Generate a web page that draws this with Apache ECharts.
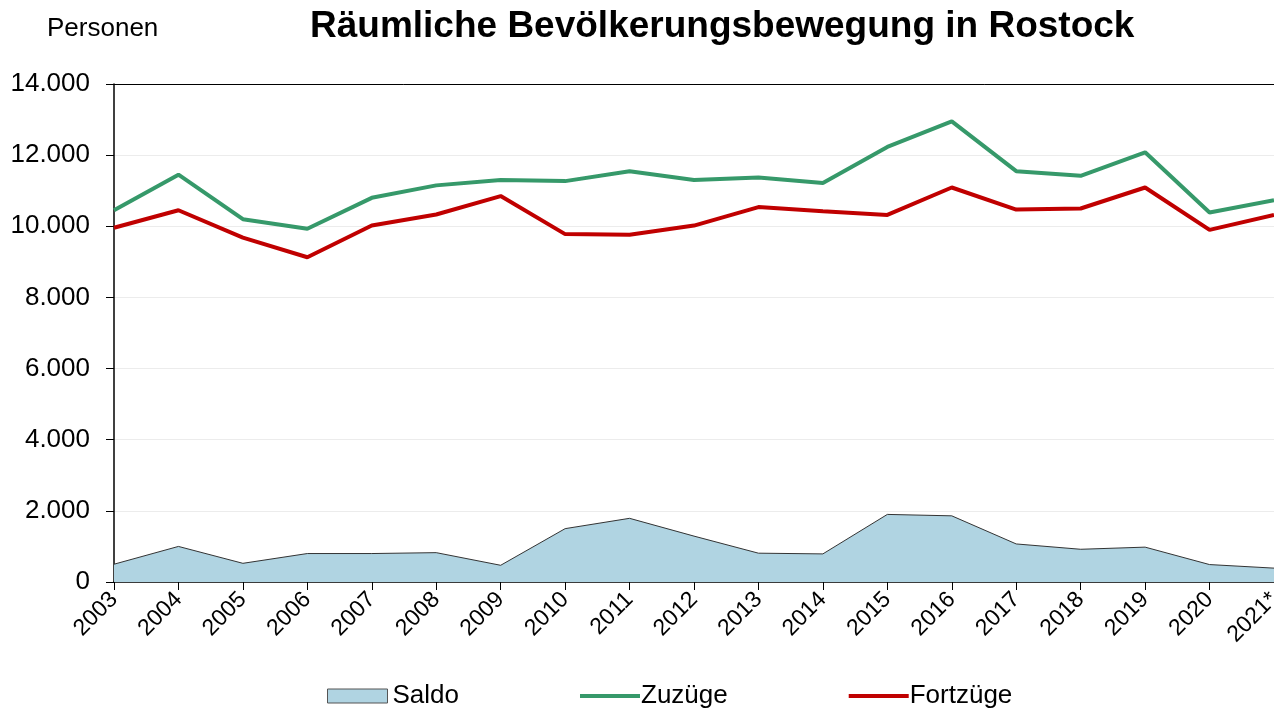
<!DOCTYPE html>
<html>
<head>
<meta charset="utf-8">
<script src="https://cdn.jsdelivr.net/npm/echarts@6/dist/echarts.min.js"></script>
<style>
  html, body { margin: 0; padding: 0; background: #fff; }
  #chart { width: 1274px; height: 712px; }
</style>
</head>
<body>
<div id="chart"></div>
<script>
// Jahre (2021 vorläufig)
const years = ['2003', '2004', '2005', '2006', '2007', '2008', '2009', '2010', '2011', '2012',
  '2013', '2014', '2015', '2016', '2017', '2018', '2019', '2020', '2021*']
const saldo = [500, 1000, 525, 800, 800, 825, 470, 1500, 1790, 1290,
  810, 790, 1900, 1860, 1070, 920, 980, 490, 390]
const zuzuege = [10450, 11450, 10200, 9930, 10800, 11150, 11300, 11270, 11550, 11300,
  11370, 11220, 12230, 12950, 11550, 11420, 12080, 10390, 10730]
const fortzuege = [9960, 10450, 9680, 9130, 10020, 10330, 10850, 9780, 9760, 10020,
  10540, 10420, 10320, 11090, 10470, 10500, 11090, 9900, 10320]

const font = '"Liberation Sans", Arial, sans-serif'
const lineIcon = 'path://M0,0 L62,0 L62,4 L0,4 Z'

function fmt (v) {
  return String(v).replace(/\B(?=(\d{3})+(?!\d))/g, '.')
}

const chart = echarts.init(document.getElementById('chart'))
const option = {
  backgroundColor: '#fff',
  animation: false,
  textStyle: { fontFamily: font, color: '#000' },
  title: {
    text: 'Räumliche Bevölkerungsbewegung in Rostock',
    left: 305,
    top: 3,
    textStyle: { fontFamily: font, fontSize: 37, fontWeight: 'bold', color: '#000' }
  },
  graphic: [{
    type: 'text',
    left: 47,
    top: 16,
    style: { text: 'Personen', font: '26px ' + font, fill: '#000' }
  }],
  legend: {
    left: 322,
    top: 678,
    itemWidth: 60,
    itemHeight: 14,
    itemGap: 121,
    textStyle: { fontFamily: font, fontSize: 26, color: '#000' },
    data: [
      { name: 'Saldo', icon: 'rect', itemStyle: { color: '#b0d4e2', borderColor: '#555', borderWidth: 1 } },
      { name: 'Zuzüge', icon: lineIcon, itemStyle: { color: '#36996a' }, textStyle: { padding: [0, 0, 0, -4] } },
      { name: 'Fortzüge', icon: lineIcon, itemStyle: { color: '#c00000' }, textStyle: { padding: [0, 0, 0, -4] } }
    ]
  },
  grid: {
    left: 114,
    right: 0,
    top: 84,
    bottom: 130,
    outerBoundsMode: 'none'
  },
  xAxis: [
    {
      type: 'category',
      data: years,
      boundaryGap: false,
      axisLine: { lineStyle: { color: '#000', width: 1.5 } },
      axisTick: { show: true, length: 8, inside: false, alignWithLabel: true, lineStyle: { color: '#000' } },
      axisLabel: { rotate: 45, fontSize: 23, color: '#000', margin: 14, interval: 0, fontFamily: font }
    },
    {
      // obere Rahmenlinie
      type: 'category',
      position: 'top',
      data: years,
      boundaryGap: false,
      axisLine: { show: true, lineStyle: { color: '#000', width: 1 } },
      axisTick: { show: false },
      axisLabel: { show: false }
    }
  ],
  yAxis: {
    type: 'value',
    min: 0,
    max: 14000,
    interval: 2000,
    axisLine: { show: true, lineStyle: { color: '#000', width: 1.5 } },
    axisTick: { show: true, length: 8, lineStyle: { color: '#000' } },
    axisLabel: { fontSize: 26, color: '#000', margin: 24, formatter: fmt, fontFamily: font },
    splitLine: { lineStyle: { color: '#ececec', width: 1 } }
  },
  series: [
    {
      name: 'Saldo',
      type: 'line',
      data: saldo,
      symbol: 'none',
      lineStyle: { color: '#333', width: 1 },
      itemStyle: { color: '#b0d4e2' },
      areaStyle: { color: '#b0d4e2', opacity: 1 },
      z: 1
    },
    {
      name: 'Zuzüge',
      type: 'line',
      data: zuzuege,
      symbol: 'none',
      lineStyle: { color: '#36996a', width: 4 },
      itemStyle: { color: '#36996a' },
      z: 3
    },
    {
      name: 'Fortzüge',
      type: 'line',
      data: fortzuege,
      symbol: 'none',
      lineStyle: { color: '#c00000', width: 4 },
      itemStyle: { color: '#c00000' },
      z: 3
    }
  ]
}
chart.setOption(option)
window.addEventListener('resize', function () {
  chart.resize()
})
</script>
</body>
</html>
